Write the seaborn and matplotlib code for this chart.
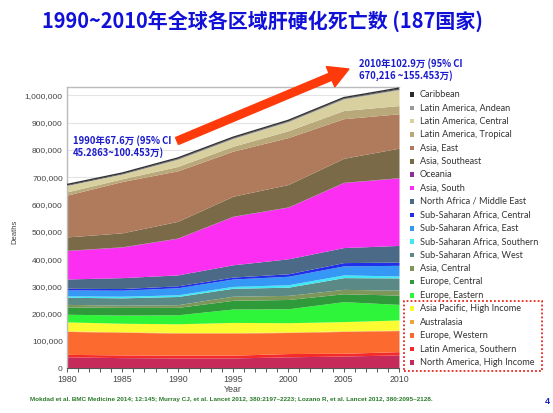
import matplotlib
matplotlib.use("Agg")
import matplotlib.pyplot as plt
import seaborn as sns
import numpy as np
import pandas as pd
from matplotlib.patches import Rectangle, FancyArrow

# ---------------- data (thousands of deaths) ----------------
years = [1980, 1985, 1990, 1995, 2000, 2005, 2010]

# bottom -> top stacking order
north_america_high_income = [42, 39, 38, 38, 42, 45, 49]
latin_america_southern = [9, 10, 10, 10, 12, 10, 12]
europe_western = [84, 83, 81, 81, 77, 80, 77]
australasia = [2, 2, 2, 2, 2, 2, 2]
asia_pacific_high_income = [33, 31, 32, 37, 34, 34, 37]
europe_eastern = [28, 30, 33, 49, 51, 73, 57]
europe_central = [27, 28, 27, 32, 34, 29, 34]
asia_central = [9, 8, 10, 15, 15, 16, 18]
ssa_west = [26, 27, 30, 29, 30, 43, 45]
ssa_southern = [5, 6, 6, 7, 9, 10, 7]
ssa_east = [22, 22, 26, 27, 31, 33, 39]
ssa_central = [6, 6, 7, 7, 9, 12, 12]
north_africa_middle_east = [34, 40, 40, 45, 55, 55, 61]
asia_south = [104, 112, 134, 177, 189, 238, 247]
oceania = [1, 1, 1, 1, 1, 1, 1]
asia_southeast = [49, 51, 61, 73, 82, 88, 108]
asia_east = [153, 188, 185, 165, 172, 145, 126]
latin_america_tropical = [12, 10, 16, 18, 25, 30, 30]
latin_america_central = [23, 17, 26, 28, 33, 42, 58]
latin_america_andean = [2, 2, 3, 3, 3, 3, 3]
caribbean = [2, 2, 2, 2, 2, 2, 3]

legend_names = [
    "Caribbean", "Latin America, Andean", "Latin America, Central",
    "Latin America, Tropical", "Asia, East", "Asia, Southeast", "Oceania",
    "Asia, South", "North Africa / Middle East", "Sub-Saharan Africa, Central",
    "Sub-Saharan Africa, East", "Sub-Saharan Africa, Southern",
    "Sub-Saharan Africa, West", "Asia, Central", "Europe, Central",
    "Europe, Eastern", "Asia Pacific, High Income", "Australasia",
    "Europe, Western", "Latin America, Southern", "North America, High Income",
]
legend_colors = [
    "#2a2a2a", "#9a9a9a", "#d9d0a0", "#b9a87a", "#b07a5c", "#7a6a48",
    "#8e2f9c", "#fb2ef2", "#4b6a88", "#1f30e8", "#3598f5", "#3fe8f2",
    "#5b8a86", "#7d965a", "#2f9a3a", "#2ef53a", "#fbfb32", "#f0a23c",
    "#fd6a30", "#f52a2a", "#c62a5a",
]

series_bottom_up = [
    north_america_high_income, latin_america_southern, europe_western,
    australasia, asia_pacific_high_income, europe_eastern, europe_central,
    asia_central, ssa_west, ssa_southern, ssa_east, ssa_central,
    north_africa_middle_east, asia_south, oceania, asia_southeast, asia_east,
    latin_america_tropical, latin_america_central, latin_america_andean,
    caribbean,
]
colors_bottom_up = legend_colors[::-1]

yticks = [0, 100000, 200000, 300000, 400000, 500000, 600000, 700000,
          800000, 900000, 1000000]
ytick_labels = ["0", "100,000", "200,000", "300,000", "400,000", "500,000",
                "600,000", "700,000", "800,000", "900,000", "1,000,000"]

# ---------------- figure ----------------
sns.set_theme(style="white")
plt.rcParams['font.family'] = ['Liberation Sans', 'DejaVu Sans']

W, H = 553, 413
fig = plt.figure(figsize=(W / 100, H / 100), dpi=100)
ax = fig.add_axes([67 / W, 1 - 368.3 / H, (399 - 67) / W, (368.3 - 87) / H])

vals = [np.array(s) * 1000 for s in series_bottom_up]
ax.stackplot(years, *vals, colors=colors_bottom_up, linewidth=0, zorder=2)
total = np.sum(vals, axis=0)
df_tot = pd.DataFrame({"Year": years, "Deaths": total})
sns.lineplot(data=df_tot, x="Year", y="Deaths", ax=ax, color="#333333",
             linewidth=1.0, zorder=3)

ax.set_xlim(1980, 2010)
ax.set_ylim(0, 1030000)
ax.set_yticks(yticks)
ax.set_yticklabels(ytick_labels, fontsize=6, color="#444444")
ax.set_xticks([1980, 1985, 1990, 1995, 2000, 2005, 2010])
ax.set_xticklabels(["1980", "1985", "1990", "1995", "2000", "2005", "2010"],
                   fontsize=6.3, color="#444444")
ax.set_xticks(range(1980, 2011), minor=True)
ax.tick_params(axis="x", which="both", direction="out", length=3, width=0.7,
               colors="#555555", bottom=True, pad=2)
ax.tick_params(axis="x", which="major", labelcolor="#444444")
ax.tick_params(axis="y", length=0, pad=3)
ax.grid(axis="y", color="#e4e4e4", linewidth=0.8, zorder=0)
ax.set_axisbelow(True)
for side in ["top", "left"]:
    ax.spines[side].set_color("#bbbbbb")
    ax.spines[side].set_linewidth(1.0)
ax.spines["right"].set_visible(False)
ax.spines["bottom"].set_color("#555555")
ax.spines["bottom"].set_linewidth(0.8)
ax.set_xlabel("")
ax.set_ylabel("")

fig.text(15 / W, 1 - 232 / H, "Deaths", rotation=90, fontsize=5.5,
         color="#444444", ha="center", va="center")
fig.text(233 / W, 1 - 390 / H, "Year", fontsize=6.3, color="#444444",
         ha="center", va="center")

# title
fig.text(262 / W, 1 - 21 / H, "1990~2010年全球各区域肝硬化死亡数 (187国家)",
         fontsize=14.4, fontweight="bold", color="#1010d8", ha="center",
         va="center", family=["Noto Sans CJK SC", "DejaVu Sans"])

# annotations
blue = "#1a1acc"
fig.text(73 / W, 1 - 141 / H, "1990年67.6万 (95% CI", fontsize=6.8,
         fontweight="bold", color=blue, ha="left", va="center",
         family=["Noto Sans CJK SC", "DejaVu Sans"])
fig.text(73 / W, 1 - 153 / H, "45.2863~100.453万)", fontsize=6.8,
         fontweight="bold", color=blue, ha="left", va="center",
         family=["Noto Sans CJK SC", "DejaVu Sans"])
fig.text(359 / W, 1 - 64 / H, "2010年102.9万 (95% CI", fontsize=6.8,
         fontweight="bold", color=blue, ha="left", va="center",
         family=["Noto Sans CJK SC", "DejaVu Sans"])
fig.text(359 / W, 1 - 76 / H, "670,216 ~155.453万)", fontsize=6.8,
         fontweight="bold", color=blue, ha="left", va="center",
         family=["Noto Sans CJK SC", "DejaVu Sans"])

# big arrow (figure pixel coordinates)
x0, y0 = 177, H - 141
x1, y1 = 349, H - 69
arr = FancyArrow(x0, y0, x1 - x0, y1 - y0, width=7.5, head_width=22,
                 head_length=20, length_includes_head=True,
                 color="#ff3a0a", transform=None, zorder=10)
fig.patches.append(arr)

# legend
for i, (name, col) in enumerate(zip(legend_names, legend_colors)):
    yy = 94.3 + i * 13.4
    fig.patches.append(Rectangle((410 / W, 1 - (yy + 2.2) / H), 4.4 / W,
                                 4.4 / H, transform=fig.transFigure,
                                 color=col, lw=0))
    fig.text(420 / W, 1 - yy / H, name, fontsize=6.6, color="#333333",
             ha="left", va="center", family=["Lato", "DejaVu Sans"])

fig.patches.append(Rectangle((404 / W, 1 - 371 / H), (541.5 - 404) / W,
                             (371 - 301) / H, transform=fig.transFigure,
                             fill=False, edgecolor="#e8281e", lw=1.3,
                             linestyle=(0, (1, 1.2))))

# footnote
fig.text(30 / W, 1 - 400 / H,
         "Mokdad et al. BMC Medicine 2014; 12:145; Murray CJ, et al. Lancet 2012, "
         "380:2197\u20132223; Lozano R, et al. Lancet 2012, 380:2095\u20132128.",
         fontsize=4.62, fontweight="bold", color="#2a7a2a", ha="left",
         va="center")
fig.text(547 / W, 1 - 401 / H, "4", fontsize=6.5, fontweight="bold",
         color="#1a1acc", ha="center", va="center")

fig.savefig("out.png", dpi=100)
